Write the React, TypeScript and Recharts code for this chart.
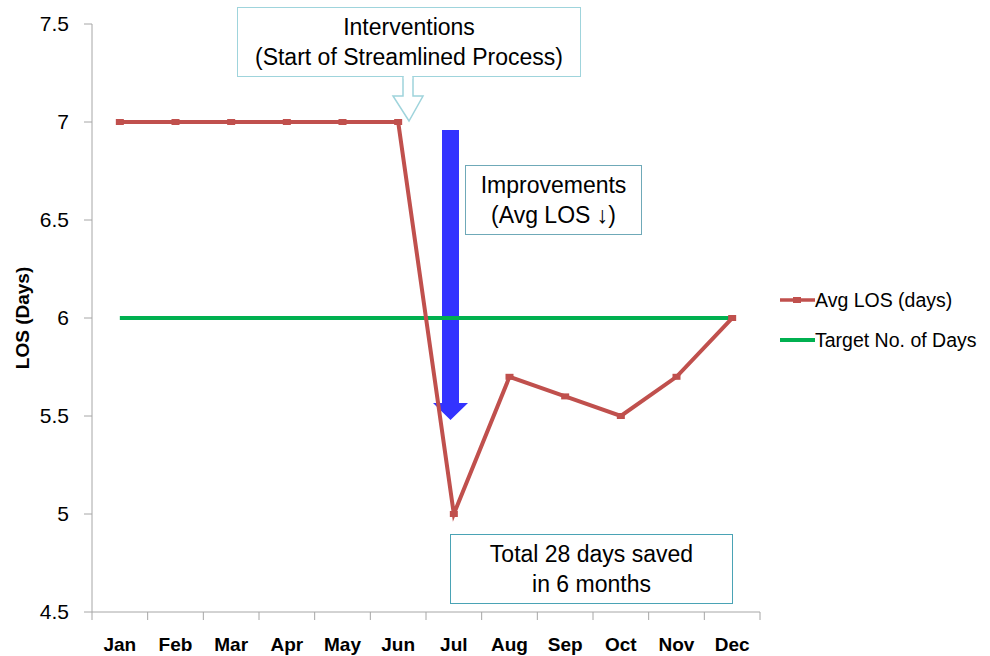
import { LineChart, Line, XAxis, YAxis, Legend, Customized } from "recharts";

const months = ["Jan", "Feb", "Mar", "Apr", "May", "Jun", "Jul", "Aug", "Sep", "Oct", "Nov", "Dec"];
const avgLos = [7, 7, 7, 7, 7, 7, 5, 5.7, 5.6, 5.5, 5.7, 6];
const targetDays = [6, 6, 6, 6, 6, 6, 6, 6, 6, 6, 6, 6];
const yTicks = [4.5, 5, 5.5, 6, 6.5, 7, 7.5];

const W = 990;
const H = 656;
const LEFT = 92;
const RIGHT = 230;
const BAND = (W - LEFT - RIGHT) / months.length;

const RED = "#c0504d";
const GREEN = "#00b050";
const AXIS = "#a6a6a6";
const FONT = "'Liberation Sans', Arial, sans-serif";

const data = months.map((m, i) => ({ month: m, avg: avgLos[i], target: targetDays[i] }));

// excel-ish tick marks sit between categories, label in the middle
const MonthTick = (props: any) => {
  const { x, y, payload, index } = props;
  const last = index === months.length - 1;
  return (
    <g>
      <line x1={x - BAND / 2} x2={x - BAND / 2} y1={y} y2={y + 8} stroke={AXIS} />
      {last && <line x1={x + BAND / 2} x2={x + BAND / 2} y1={y} y2={y + 8} stroke={AXIS} />}
      <text x={x} y={y + 39} textAnchor="middle" fontSize={19} fontWeight="bold" fontFamily={FONT} fill="#000">
        {payload.value}
      </text>
    </g>
  );
};

const DashDot = (props: any) => {
  const { cx, cy } = props;
  if (cx == null || cy == null) return null;
  return <rect x={cx - 4} y={cy - 3} width={8} height={6} fill={RED} />;
};

// the big blue "improvement" arrow, sits above the target line but under the LOS line
const BlueArrow = () => (
  <path d="M442,130 L459,130 L459,403 L468,403 L450.5,420 L433,403 L442,403 Z" fill="#3333ff" />
);

const LegendBox = () => (
  <div style={{ fontFamily: FONT, fontSize: 19.5, color: "#000" }}>
    <div style={{ display: "flex", alignItems: "center", height: 40 }}>
      <svg width={35} height={10}>
        <line x1={0} x2={35} y1={5} y2={5} stroke={RED} strokeWidth={3.5} />
        <rect x={13} y={2} width={8} height={6} fill={RED} />
      </svg>
      <span>Avg LOS (days)</span>
    </div>
    <div style={{ display: "flex", alignItems: "center", height: 40 }}>
      <svg width={35} height={10}>
        <line x1={0} x2={35} y1={5} y2={5} stroke={GREEN} strokeWidth={4} />
      </svg>
      <span>Target No. of Days</span>
    </div>
  </div>
);

const boxStyle = (left: number, top: number, width: number, height: number, border: string): React.CSSProperties => ({
  position: "absolute",
  left,
  top,
  width,
  height,
  boxSizing: "border-box",
  border: `1.5px solid ${border}`,
  background: "#fff",
  display: "flex",
  flexDirection: "column",
  justifyContent: "center",
  alignItems: "center",
  fontFamily: FONT,
  fontSize: 23,
  lineHeight: "30px",
  color: "#000",
  textAlign: "center",
  whiteSpace: "nowrap",
});

export default function App() {
  return (
    <div style={{ position: "fixed", left: 0, top: 0, width: W, height: H, background: "#fff" }}>
      <LineChart width={W} height={H} data={data} margin={{ top: 24, right: RIGHT, bottom: 0, left: 0 }}>
        <XAxis
          dataKey="month"
          scale="band"
          height={44}
          stroke={AXIS}
          tickSize={0}
          tickMargin={0}
          interval={0}
          tick={<MonthTick />}
        />
        <YAxis
          width={LEFT}
          domain={[4.5, 7.5]}
          ticks={yTicks}
          stroke={AXIS}
          tickSize={8}
          tickMargin={15}
          tick={{ fontSize: 21, fill: "#000", fontFamily: FONT }}
          label={({ viewBox }: any) => (
            <text
              x={22}
              y={viewBox.y + viewBox.height / 2}
              transform={`rotate(-90, 22, ${viewBox.y + viewBox.height / 2})`}
              textAnchor="middle"
              dominantBaseline="central"
              fontSize={19}
              fontWeight="bold"
              fontFamily={FONT}
              fill="#000"
            >
              LOS (Days)
            </text>
          )}
        />
        <Legend
          layout="horizontal"
          align="center"
          verticalAlign="middle"
          wrapperStyle={{ left: 780, top: 280, width: 210 }}
          content={<LegendBox />}
        />
        <Line dataKey="target" stroke={GREEN} strokeWidth={4} dot={false} isAnimationActive={false} />
        <Customized component={BlueArrow} />
        <Line dataKey="avg" stroke={RED} strokeWidth={4} dot={<DashDot />} isAnimationActive={false} />
      </LineChart>

      <svg width={W} height={H} style={{ position: "absolute", left: 0, top: 0, pointerEvents: "none" }}>
        {/* callout pointer from the interventions box */}
        <path d="M403,76 L403,96 L393,96 L409,121 L423,96 L413,96 L413,76" fill="#fff" stroke="#9fd4dc" strokeWidth={1.5} />
      </svg>

      <div style={boxStyle(237, 7, 344, 70, "#9fd4dc")}>
        <div>Interventions</div>
        <div>(Start of Streamlined Process)</div>
      </div>
      <svg width={W} height={H} style={{ position: "absolute", left: 0, top: 0, pointerEvents: "none" }}>
        <rect x={403.8} y={75} width={8.4} height={4} fill="#fff" />
      </svg>
      <div style={boxStyle(465, 165, 177, 70, "#6fa9b8")}>
        <div>Improvements</div>
        <div>(Avg LOS ↓)</div>
      </div>
      <div style={boxStyle(450, 534, 283, 70, "#4aa3b5")}>
        <div>Total 28 days saved</div>
        <div>in 6 months</div>
      </div>
    </div>
  );
}
